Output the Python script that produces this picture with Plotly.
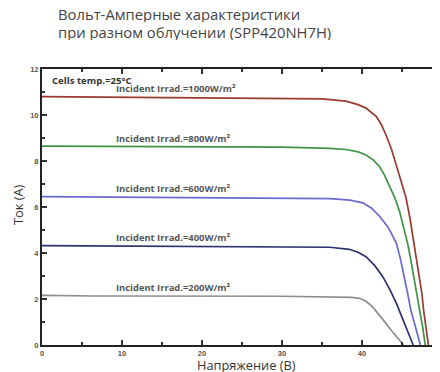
import plotly.graph_objects as go

# Data (voltage V, current A)
v_1000 = [0, 8, 25, 32, 35, 38, 39.5, 40.5, 41.2, 41.8, 42.4, 43.0, 43.7, 44.3, 44.9, 45.5,
          46.0, 46.5, 46.9, 47.2, 47.5, 47.7, 48.0, 48.3]
i_1000 = [10.8, 10.78, 10.75, 10.74, 10.7, 10.6, 10.45, 10.3, 10.1, 9.93, 9.6, 9.13, 8.5, 7.83,
          7.1, 6.4, 5.5, 4.42, 3.6, 2.97, 2.2, 1.52, 0.8, 0]

v_800 = [0, 30, 36, 38, 39.5, 40.5, 41.4, 42.2, 42.8, 43.4, 44.1, 44.7, 45.2, 45.7, 46.1,
         46.5, 46.9, 47.2, 47.6, 47.9]
i_800 = [8.65, 8.6, 8.55, 8.5, 8.4, 8.26, 8.05, 7.75, 7.4, 6.96, 6.4, 5.8, 5.15, 4.42, 3.7,
         2.97, 2.2, 1.52, 0.75, 0]

v_600 = [0, 16, 30, 36, 38.5, 40.1, 41.2, 42.2, 43.3, 44.3, 44.8, 45.3, 45.7, 46.1, 46.7, 47.3]
i_600 = [6.45, 6.42, 6.4, 6.36, 6.3, 6.18, 5.95, 5.6, 5.1, 4.42, 3.75, 2.97, 2.25, 1.52, 0.75, 0]

v_400 = [0, 12, 30, 36, 38.4, 39.5, 40.5, 41.6, 42.6, 43.5, 44.3, 44.9, 45.5, 46.0, 46.4]
i_400 = [4.32, 4.3, 4.29, 4.25, 4.16, 4.03, 3.84, 3.45, 2.97, 2.4, 1.81, 1.3, 0.8, 0.35, 0]

v_200 = [0, 6.6, 30, 37, 38.7, 39.7, 40.5, 41.3, 42.2, 43.0, 43.7, 44.3, 44.8, 45.2]
i_200 = [2.16, 2.13, 2.12, 2.1, 2.07, 2.03, 1.9, 1.67, 1.3, 0.94, 0.62, 0.36, 0.15, 0]

labels = ["Incident Irrad.=1000W/m²", "Incident Irrad.=800W/m²", "Incident Irrad.=600W/m²",
          "Incident Irrad.=400W/m²", "Incident Irrad.=200W/m²"]
series_v = [v_1000, v_800, v_600, v_400, v_200]
series_i = [i_1000, i_800, i_600, i_400, i_200]
colors = ["#9a3a30", "#3d9444", "#6a6ad0", "#2c3170", "#8e8e8e"]

title_lines = ["Вольт-Амперные характеристики", "при разном облучении (SPP420NH7H)"]
x_title = "Напряжение (В)"
y_title = "Ток (А)"
temp_label = "Cells temp.=25°C"

ML, MT, MB, MR = 34, 61, 35, 6
PW = 440 - ML - MR

fig = go.Figure()
for v, i, c in zip(series_v, series_i, colors):
    fig.add_trace(go.Scatter(x=v, y=i, mode="lines", line=dict(color=c, width=1.7),
                             hoverinfo="skip", showlegend=False))

# invisible trace for right-side tick axis
fig.add_trace(go.Scatter(x=[0], y=[0], yaxis="y2", mode="markers",
                         marker=dict(opacity=0), showlegend=False, hoverinfo="skip"))

tickfont = dict(family="Liberation Sans", size=7.5, color="#555555", weight="bold")

fig.update_layout(
    width=440, height=372,
    margin=dict(l=ML, r=MR, t=MT, b=MB),
    paper_bgcolor="white", plot_bgcolor="white",
    xaxis=dict(range=[0, 50], dtick=10, tick0=0, showgrid=False, zeroline=False,
               automargin=False,
               showline=True, linecolor="#222222", linewidth=2, mirror="ticks",
               ticks="inside", ticklen=5, tickwidth=1.5, tickcolor="#333333",
               minor=dict(ticks="inside", ticklen=3, dtick=5, tickcolor="#333333", tickwidth=1.5),
               tickfont=tickfont),
    yaxis=dict(range=[0, 12], dtick=2, tick0=0, showgrid=False, zeroline=False,
               automargin=False,
               showline=True, linecolor="#222222", linewidth=2,
               ticks="inside", ticklen=5, tickwidth=1.5, tickcolor="#333333",
               minor=dict(ticks="inside", ticklen=3, dtick=1, tickcolor="#333333", tickwidth=1.5),
               tickfont=tickfont),
    yaxis2=dict(range=[0, 12], dtick=2, overlaying="y", side="right", showline=False,
                automargin=False,
                showgrid=False, zeroline=False, showticklabels=False,
                ticks="inside", ticklen=5, tickwidth=1.5, tickcolor="#333333",
                minor=dict(ticks="inside", ticklen=3, dtick=1, tickcolor="#666666", tickwidth=1.5)),
)

for line, ys in zip(title_lines, [55, 37]):
    fig.add_annotation(text=line, xref="paper", yref="paper", height=16,
                       x=(48 - ML) / PW, y=1, yshift=ys, xanchor="left", yanchor="middle",
                       showarrow=False,
                       font=dict(family="Open Sans", size=14.8, color="#444444"))

fig.add_annotation(text=x_title, xref="paper", yref="paper", x=(238 - ML) / PW, y=0,
                   yshift=-20, xanchor="center", yanchor="middle", showarrow=False, height=14,
                   font=dict(family="Open Sans", size=12.8, color="#333333"))

fig.add_annotation(text=y_title, xref="paper", yref="paper", x=0, xshift=-24, y=0.5,
                   yshift=2, xanchor="center", yanchor="middle", textangle=-90,
                   showarrow=False,
                   font=dict(family="Open Sans", size=12.8, color="#333333"))

fig.add_annotation(text=temp_label, x=0.95, y=11.5, xanchor="left", yanchor="middle",
                   showarrow=False,
                   font=dict(family="Open Sans", size=9.6, color="#333333", weight="bold"))

for lab, i in zip(labels, series_i):
    fig.add_annotation(text=lab, x=9.05, y=i[0], yshift=8, xanchor="left", yanchor="middle",
                       showarrow=False,
                       font=dict(family="Open Sans", size=9.4, color="#555555", weight="bold"))

fig.write_html("out.html")
